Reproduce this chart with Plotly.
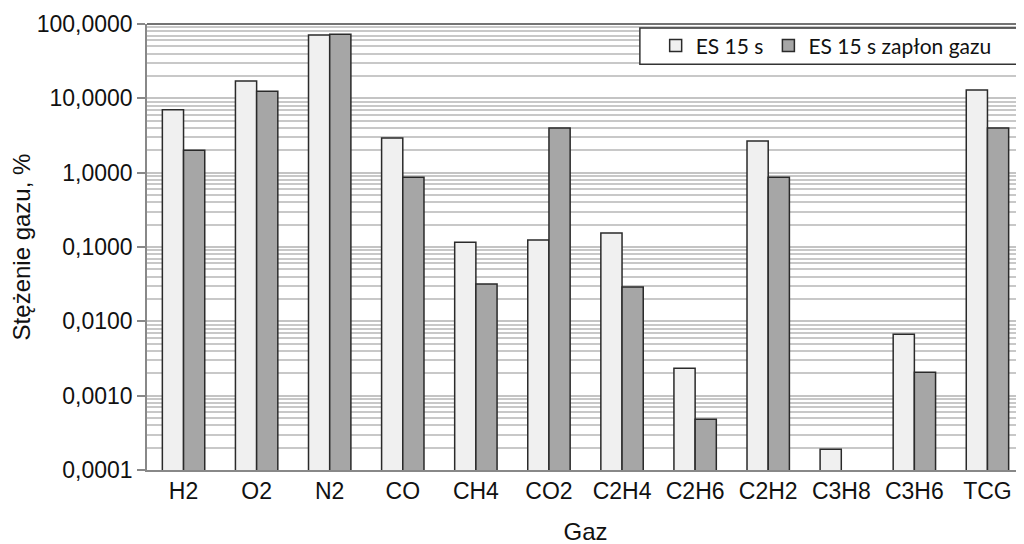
import plotly.graph_objects as go

categories = ["H2", "O2", "N2", "CO", "CH4", "CO2", "C2H4", "C2H6", "C2H2", "C3H8", "C3H6", "TCG"]
es15 = [7.0, 17.1, 71.0, 2.92, 0.116, 0.124, 0.154, 0.00234, 2.66, 0.00019, 0.0067, 12.9]
es15_zaplon = [2.0, 12.5, 73.0, 0.87, 0.0317, 4.0, 0.029, 0.00048, 0.87, None, 0.00207, 4.0]

tick_vals = [0.0001, 0.001, 0.01, 0.1, 1, 10, 100]
tick_text = ["0,0001", "0,0010", "0,0100", "0,1000", "1,0000", "10,0000", "100,0000"]

fig = go.Figure()
fig.add_trace(go.Bar(
    x=categories, y=es15, name="ES 15 s",
    marker=dict(color="#f0f0f0", line=dict(color="#2a2a2a", width=1.5)),
))
fig.add_trace(go.Bar(
    x=categories, y=es15_zaplon, name="ES 15 s zapłon gazu",
    marker=dict(color="#a6a6a6", line=dict(color="#2a2a2a", width=1.5)),
))

axis_font = dict(family="Liberation Sans", size=23, color="#111111")

fig.update_layout(
    width=1024, height=544,
    margin=dict(l=139, r=8, t=16, b=82),
    paper_bgcolor="white", plot_bgcolor="white",
    barmode="group", bargap=0.42, bargroupgap=0.0,
    font=axis_font,
    showlegend=True,
    legend=dict(
        orientation="h", x=0.580, y=0.951, xanchor="left", yanchor="middle",
        bgcolor="rgba(0,0,0,0)", borderwidth=0,
        font=dict(family="Lato", size=21, color="#111111"),
        itemwidth=30, traceorder="normal",
    ),
    xaxis=dict(
        title=dict(text="Gaz", font=dict(family="Liberation Sans", size=24), standoff=20),
        showline=True, linecolor="#888888", linewidth=1.5,
        ticks="", showgrid=False, tickfont=axis_font, automargin=False,
    ),
    yaxis=dict(
        type="log", range=[-4, 2],
        title=dict(text="Stężenie gazu, %", font=dict(family="Liberation Sans", size=24), standoff=1),
        tickvals=tick_vals, ticktext=tick_text, tickfont=axis_font,
        showline=True, linecolor="#888888", linewidth=1.5,
        ticks="outside", ticklen=8, tickcolor="#888888", tickwidth=1.5,
        showgrid=True, gridcolor="#c4c4c4", gridwidth=1.5,
        minor=dict(showgrid=True, gridcolor="#c8c8c8", gridwidth=1.5, dtick="D1"),
        zeroline=False, automargin=False,
    ),
    shapes=[
        dict(type="line", xref="paper", yref="paper", x0=0, x1=1, y0=1, y1=1,
             line=dict(color="#444444", width=1.5)),
        dict(type="rect", xref="paper", yref="paper", x0=0.562, x1=0.995, y0=0.910, y1=0.991,
             fillcolor="white", line=dict(color="#333333", width=1.5), layer="above"),
    ],
)

fig.write_html("out.html")
